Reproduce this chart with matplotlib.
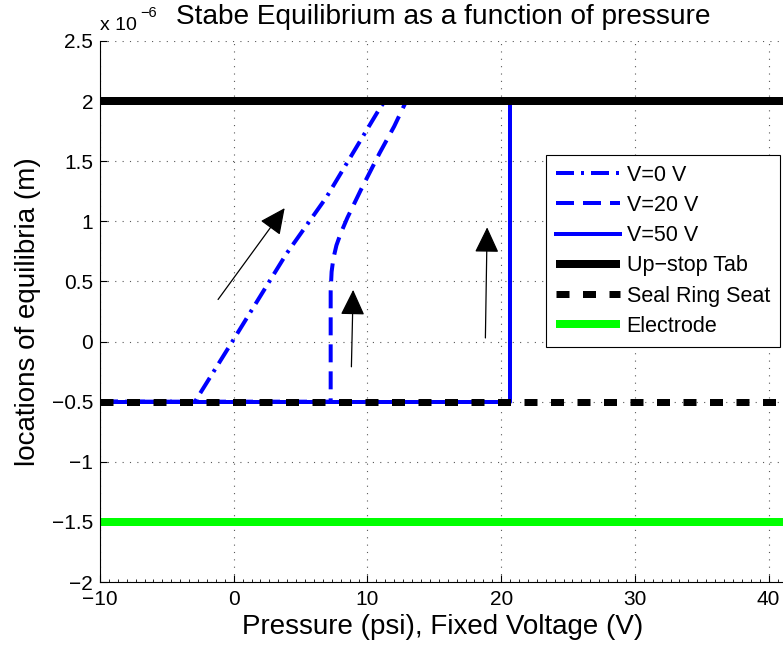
import matplotlib
matplotlib.use('Agg')
import matplotlib.pyplot as plt
from matplotlib.ticker import MultipleLocator, FuncFormatter

plt.rcParams['font.family'] = ['Liberation Sans', 'DejaVu Sans']
plt.rcParams['lines.scale_dashes'] = False

# equilibrium positions, in units of 1e-6 m
p_v0 = [-10, -2.9, -0.05, 3.94, 6.93, 10.92, 11.3]
z_v0 = [-0.5, -0.5, 0.01, 0.73, 1.20, 1.94, 2.0]

p_v20 = [-10, 7.25, 7.25, 7.32, 7.45, 7.68, 8.0, 8.5, 9.5, 10.92, 12.0, 12.9]
z_v20 = [-0.5, -0.5, 0.42, 0.58, 0.69, 0.80, 0.90, 1.03, 1.26, 1.57, 1.79, 2.0]

p_v50 = [-10, 20.64, 20.64]
z_v50 = [-0.5, -0.5, 2.0]

p_span = [-10, 50]
z_upstop = 2.0
z_seal = -0.5
z_electrode = -1.5

# arrows: (start p, start z, end p, end z)
arrows = [(-1.17, 0.35, 3.81, 1.11),
          (8.80, -0.21, 8.93, 0.43),
          (18.82, 0.03, 18.95, 0.95)]

xticks = [-10, 0, 10, 20, 30, 40]
yticks = [-2, -1.5, -1, -0.5, 0, 0.5, 1, 1.5, 2, 2.5]

W, H = 783, 653
fig = plt.figure(figsize=(W / 100, H / 100), dpi=100)
ax = fig.add_axes([100 / W, (H - 582) / H, 686 / W, 541 / H])

px = 72 / 100  # points per pixel
blue = (0, 0, 1)

ax.plot(p_v0, z_v0, color=blue, lw=4 * px, dashes=(18 * px, 7 * px, 3 * px, 7 * px),
        label='V=0 V')
ax.plot(p_v20, z_v20, color=blue, lw=4 * px, dashes=(18 * px, 9 * px), label='V=20 V')
ax.plot(p_v50, z_v50, color=blue, lw=4 * px, label='V=50 V')
ax.plot(p_span, [z_upstop] * 2, color='k', lw=8 * px, label='Up\u2212stop Tab',
        solid_capstyle='butt')
ax.plot(p_span, [z_seal] * 2, color='k', lw=7 * px, dashes=(13 * px, 13.5 * px),
        dash_capstyle='butt', label='Seal Ring Seat')
ax.plot(p_span, [z_electrode] * 2, color=(0, 1, 0), lw=8 * px, label='Electrode',
        solid_capstyle='butt')

for x0, y0, x1, y1 in arrows:
    ax.annotate('', xy=(x1, y1), xytext=(x0, y0),
                arrowprops=dict(arrowstyle='-|>,head_length=0.8,head_width=0.38',
                                color='k', lw=0.9, mutation_scale=20,
                                shrinkA=0, shrinkB=0))

ax.set_xlim(-10, 41.3)
ax.set_ylim(-2, 2.5)
ax.set_xticks(xticks)
ax.set_yticks(yticks)
ax.xaxis.set_minor_locator(MultipleLocator(10 / 15))
fmt = FuncFormatter(lambda v, pos: ('%g' % v).replace('-', '\u2212'))
ax.xaxis.set_major_formatter(fmt)
ax.yaxis.set_major_formatter(fmt)
ax.tick_params(axis='both', which='major', direction='in', length=5, width=0.8,
               labelsize=15)
ax.tick_params(axis='x', which='major', pad=6)
ax.tick_params(axis='y', which='major', pad=5)
ax.tick_params(axis='x', which='minor', direction='in', length=2.5, width=0.6)
ax.spines['top'].set_visible(False)
ax.spines['right'].set_visible(False)
ax.grid(True, which='major', color='0.35', lw=0.8, linestyle=(0, (0.8, 4.5)))

ax.set_xlabel('Pressure (psi), Fixed Voltage (V)', fontsize=20, labelpad=3)
ax.set_ylabel('locations of equilibria (m)', fontsize=20, labelpad=8)

fig.text(443 / W, 1 - 24 / H, 'Stabe Equilibrium as a function of pressure',
         fontsize=20.2, ha='center', va='baseline')
fig.text(100 / W, 1 - 30 / H, 'x 10', fontsize=14, ha='left', va='baseline')
fig.text(140 / W, 1 - 17 / H, '\u22126', fontsize=10.5, ha='left', va='baseline')

leg = ax.legend(loc='upper left', bbox_to_anchor=(546 / W, 1 - 155 / H),
                bbox_transform=fig.transFigure, borderaxespad=0, fontsize=15.5,
                handlelength=3.0, handletextpad=0.3, labelspacing=0.43,
                borderpad=0.45, fancybox=False, framealpha=1, edgecolor='k')
leg.get_frame().set_linewidth(0.8)

fig.savefig('out.png', dpi=100)
